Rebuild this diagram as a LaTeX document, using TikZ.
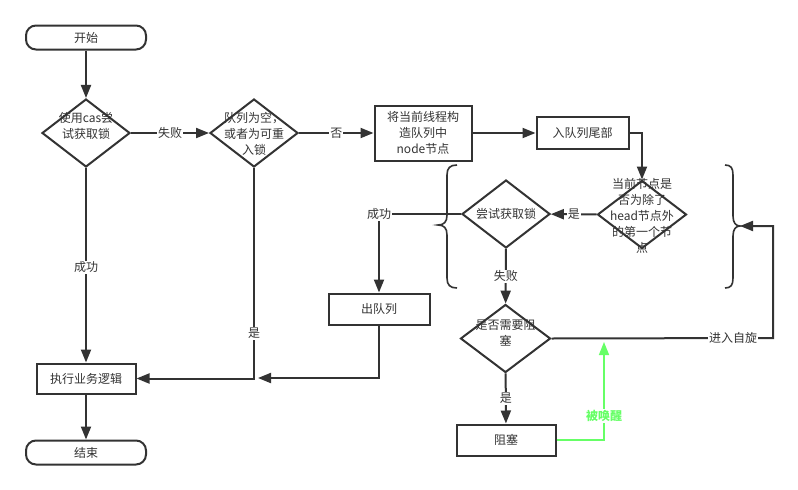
\documentclass[tikz,border=0pt]{standalone}
\usepackage{fontspec}
\setmainfont{Noto Sans CJK SC}
\usetikzlibrary{shapes.geometric,arrows.meta}
\definecolor{ln}{HTML}{333333}
\definecolor{gr}{HTML}{66FF66}
\begin{document}
\begin{tikzpicture}[x=1pt,y=-1pt,
  every node/.style={font=\fontsize{12}{16}\selectfont, text=ln},
  line/.style={draw=ln, line width=2pt},
  arr/.style={line, -{Triangle[length=13pt,width=10pt]}},
  garr/.style={draw=gr, line width=1.5pt, -{Triangle[length=13pt,width=10pt]}},
  term/.style={draw=ln, line width=2pt, rounded corners=10pt, minimum width=120pt, minimum height=24pt, inner sep=0},
  proc/.style={draw=ln, line width=2pt, inner sep=0, align=center},
  dec/.style={draw=ln, line width=2pt, diamond, inner sep=0, minimum width=88pt, minimum height=68pt},
  dtext/.style={align=center, inner sep=0},
  lbl/.style={fill=white, inner sep=1pt},
  brace/.style={draw=ln, line width=1.6pt},
]
\path[fill=white] (0,0) rectangle (798,490);
\useasboundingbox (0,0) rectangle (798,490);

% nodes
\node[term] (start) at (86,37.5) {开始};
\node[dec] (d1) at (86,133) {};
\node[dtext] (d1t) at (86,126) {使用cas尝\\试获取锁};
\node[dec] (d2) at (254,133) {};
\node[dtext] (d2t) at (254,134) {队列为空，\\或者为可重\\入锁};
\node[proc, minimum width=97pt, minimum height=55pt] (b1) at (423,133) {将当前线程构\\造队列中\\node节点};
\node[proc, minimum width=92pt, minimum height=32pt] (b2) at (582.5,133) {入队列尾部};
\node[dec, minimum width=89pt, minimum height=68pt] (d3) at (642,214.5) {};
\node[dtext] (d3t) at (642,216) {当前节点是\\否为除了\\head节点外\\的第一个节\\点};
\node[dec] (d4) at (506,214) {};
\node[dtext] (d4t) at (506,214) {尝试获取锁};
\node[proc, minimum width=101pt, minimum height=31pt] (out) at (379,309) {出队列};
\node[proc, minimum width=99pt, minimum height=30pt] (exec) at (86,378.5) {执行业务逻辑};
\node[term] (end) at (86,452.5) {结束};
\node[dec, minimum width=90pt, minimum height=68pt] (d5) at (505.5,338.5) {};
\node[dtext] (d5t) at (505.5,333) {是否需要阻\\塞};
\node[proc, minimum width=99pt, minimum height=31pt] (blk) at (506,440) {阻塞};

\coordinate (m) at (258,378);
\coordinate (bt) at (740,226);
\coordinate (c1) at (773,338);
\coordinate (gt) at (604,342);

% braces
\draw[brace] (457,165) .. controls (450,165) and (447,168) .. (447,175) -- (447,215)
  .. controls (447,222) and (444,225) .. (438,225)
  .. controls (444,225) and (447,228) .. (447,235) -- (447,278)
  .. controls (447,285) and (450,288) .. (457,288);
\draw[brace] (725,165) .. controls (731,165) and (733,168) .. (733,175) -- (733,216)
  .. controls (733,223) and (736,226) .. (740,226)
  .. controls (736,226) and (733,229) .. (733,236) -- (733,278)
  .. controls (733,285) and (731,288) .. (725,288);

% connectors
\draw[arr] (start) -- (d1);
\draw[arr] (d1) -- node[lbl]{失败} (d2);
\draw[arr] (d2) -- node[lbl]{否} (b1);
\draw[arr] (b1) -- (b2);
\draw[arr] (b2.east) -| (d3.north);
\draw[arr] (d3) -- node[lbl]{是} (d4);
\draw[arr] (d4.west) -| node[lbl]{成功} (out.north);
\draw[arr] (d4) -- node[lbl]{失败} (d5);
\draw[arr] (d5) -- node[lbl]{是} (blk);
\draw[arr] (d1) -- node[lbl, pos=0.51]{成功} (exec);
\draw[arr] (exec) -- (end);
\draw[arr] (d2.south) |- node[lbl, pos=0.393]{是} (exec.east);
\draw[arr] (out.south) |- (m);
\draw[arr] (d5.east) -- (c1) node[lbl, pos=0.82]{进入自旋} |- (bt);
\draw[garr] (blk.east) -| node[fill=white, inner sep=1pt, text=gr, pos=0.622, font=\fontsize{12}{16}\selectfont\bfseries]{被唤醒} (gt);
\end{tikzpicture}
\end{document}
